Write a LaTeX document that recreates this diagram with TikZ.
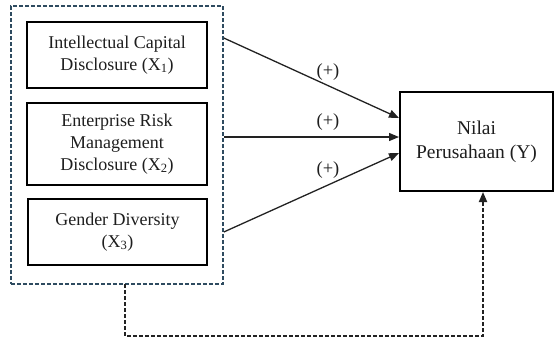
\documentclass[tikz,border=0pt]{standalone}
\usepackage{fontspec}
\setmainfont{Liberation Serif}
\usetikzlibrary{arrows.meta,calc}
\definecolor{grpblue}{HTML}{2E4B60}
\definecolor{darkline}{HTML}{222222}
\definecolor{txt}{HTML}{1E1E1E}
\begin{document}
\begin{tikzpicture}[x=1pt,y=-1pt,
  varbox/.style={draw=black,line width=2pt,rectangle,inner sep=0pt,align=center,text=txt,
    font=\fontsize{18}{22}\selectfont},
  grpbox/.style={draw=grpblue,line width=1.6pt,dash pattern=on 4pt off 2pt,inner sep=0pt},
  path/.style={draw=darkline,line width=1.3pt,-{Triangle[length=10pt,width=8pt]}},
  fb/.style={draw=darkline,line width=1.8pt,dash pattern=on 4pt off 2pt,-{Triangle[length=10pt,width=8pt]}},
  sign/.style={font=\fontsize{18.5}{22}\selectfont,inner sep=0pt,text=txt}]
\useasboundingbox (0,0) rectangle (555,341);
\node[grpbox,minimum width=212pt,minimum height=278pt] (grp) at (117,145) {};
\node[varbox,minimum width=180pt,minimum height=66pt] (x1) at (117,55) {Intellectual Capital\\Disclosure (X\textsubscript{1})};
\node[varbox,minimum width=180pt,minimum height=82pt] (x2) at (117,144) {Enterprise Risk\\Management\\Disclosure (X\textsubscript{2})};
\node[varbox,minimum width=179pt,minimum height=66pt] (x3) at (117.5,232) {Gender Diversity\\(X\textsubscript{3})};
\node[varbox,minimum width=153pt,minimum height=99pt,font=\fontsize{19.5}{24}\selectfont] (y) at (476.5,141.5) {Nilai\\Perusahaan (Y)};
\coordinate (s1) at (grp.east |- 0,38);
\coordinate (s2) at (grp.east |- 0,137);
\coordinate (s3) at (grp.east |- 0,232);
\coordinate (e1) at (y.west |- 0,118);
\coordinate (e2) at (y.west |- 0,137);
\coordinate (e3) at (y.west |- 0,153);
\draw[path] (s1) -- (e1);
\draw[path] (s2) -- (e2);
\draw[path] (s3) -- (e3);
\node[sign] (p1) at (328,72) {(+)};
\node[sign] (p2) at (328,122) {(+)};
\node[sign] (p3) at (328,170) {(+)};
\coordinate (b0) at (125,284);
\coordinate (b1) at (125,336);
\coordinate (b2) at (483,336);
\draw[fb] (b0) -- (b1) -- (b2) -- (b2 |- y.south);
\end{tikzpicture}
\end{document}
